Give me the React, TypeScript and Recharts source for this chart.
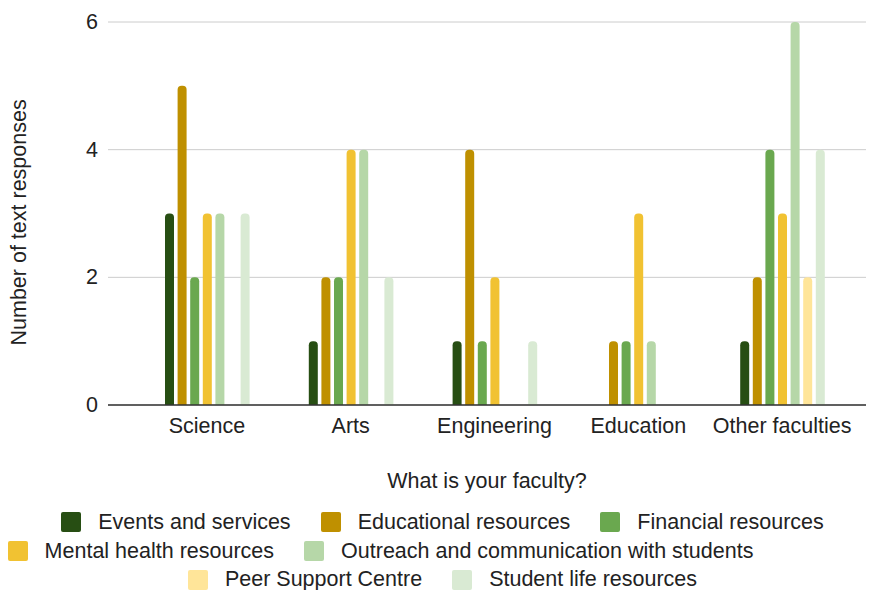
import { BarChart, Bar, XAxis, YAxis, CartesianGrid } from 'recharts';

const faculties = ['Science', 'Arts', 'Engineering', 'Education', 'Other faculties'];

const eventsAndServices = [3, 1, 1, 0, 1];
const educationalResources = [5, 2, 4, 1, 2];
const financialResources = [2, 2, 1, 1, 4];
const mentalHealthResources = [3, 4, 2, 3, 3];
const outreachAndCommunication = [3, 4, 0, 1, 6];
const peerSupportCentre = [0, 0, 0, 0, 2];
const studentLifeResources = [3, 2, 1, 0, 4];

const yTicks = [0, 2, 4, 6];

const SERIES = [
  { key: 'events', name: 'Events and services', values: eventsAndServices, color: '#274e13' },
  { key: 'educational', name: 'Educational resources', values: educationalResources, color: '#bf9000' },
  { key: 'financial', name: 'Financial resources', values: financialResources, color: '#6aa84f' },
  { key: 'mental', name: 'Mental health resources', values: mentalHealthResources, color: '#f1c232' },
  { key: 'outreach', name: 'Outreach and communication with students', values: outreachAndCommunication, color: '#b6d7a8' },
  { key: 'peer', name: 'Peer Support Centre', values: peerSupportCentre, color: '#ffe599' },
  { key: 'studentLife', name: 'Student life resources', values: studentLifeResources, color: '#d9ead3' },
];

// legend rows as the original wraps them, with a centre shift per row
const LEGEND_ROWS = [
  { keys: ['events', 'educational', 'financial'], shift: 8 },
  { keys: ['mental', 'outreach'], shift: -54 },
  { keys: ['peer', 'studentLife'], shift: 8 },
];

const FONT = '"Liberation Sans", Arial, sans-serif';
const FS = 21.5;

const data = faculties.map((f, i) => {
  const row: Record<string, string | number> = { faculty: f };
  SERIES.forEach((s) => {
    row[s.key] = s.values[i];
  });
  return row;
});

function XTick(props: any) {
  const { x, y, payload } = props;
  return (
    <text x={x} y={y + 20} textAnchor="middle" fontSize={FS} fill="#222" fontFamily={FONT}>
      {payload.value}
    </text>
  );
}

function YTick(props: any) {
  const { y, payload } = props;
  return (
    <text x={98} y={y + 7} textAnchor="end" fontSize={FS} fill="#222" fontFamily={FONT}>
      {payload.value}
    </text>
  );
}

function ChartLegend() {
  return (
    <div style={{ position: 'absolute', left: 0, top: 508, width: 869, fontFamily: FONT, fontSize: FS, color: '#222' }}>
      {LEGEND_ROWS.map((row, ri) => (
        <div
          key={ri}
          style={{ display: 'flex', justifyContent: 'center', height: 28.7, alignItems: 'center', marginLeft: row.shift * 2 }}
        >
          {row.keys.map((k) => {
            const s = SERIES.find((x) => x.key === k)!;
            return (
              <div key={k} style={{ display: 'flex', alignItems: 'center', margin: '0 15px', whiteSpace: 'nowrap' }}>
                <span
                  style={{ display: 'inline-block', width: 20, height: 20, borderRadius: 2, background: s.color, marginRight: 17 }}
                />
                <span>{s.name}</span>
              </div>
            );
          })}
        </div>
      ))}
    </div>
  );
}

export default function App() {
  return (
    <div style={{ position: 'absolute', left: 0, top: 0, width: 869, height: 590, background: '#fff', fontFamily: FONT }}>
      <BarChart
        width={869}
        height={500}
        data={data}
        margin={{ top: 22, right: 3, left: 0, bottom: 0 }}
        barSize={9}
        barGap={3.6}
      >
        <CartesianGrid vertical={false} stroke="#cccccc" />
        <XAxis
          dataKey="faculty"
          height={95}
          padding={{ left: 27, right: 12 }}
          axisLine={{ stroke: '#333', strokeWidth: 1.5 }}
          tickLine={false}
          tick={<XTick />}
          interval={0}
          label={{ value: 'What is your faculty?', position: 'insideBottom', offset: 12, fontSize: FS, fill: '#222', fontFamily: FONT }}
        />
        <YAxis
          width={108}
          domain={[0, 6]}
          ticks={yTicks}
          axisLine={false}
          tickLine={false}
          tick={<YTick />}
          label={{ value: 'Number of text responses', angle: -90, position: 'insideLeft', offset: 18, dy: 132, fontSize: FS, fill: '#222', fontFamily: FONT }}
        />
        {SERIES.map((s) => (
          <Bar key={s.key} dataKey={s.key} name={s.name} fill={s.color} radius={[4, 4, 0, 0]} isAnimationActive={false} />
        ))}
      </BarChart>
      <ChartLegend />
    </div>
  );
}
